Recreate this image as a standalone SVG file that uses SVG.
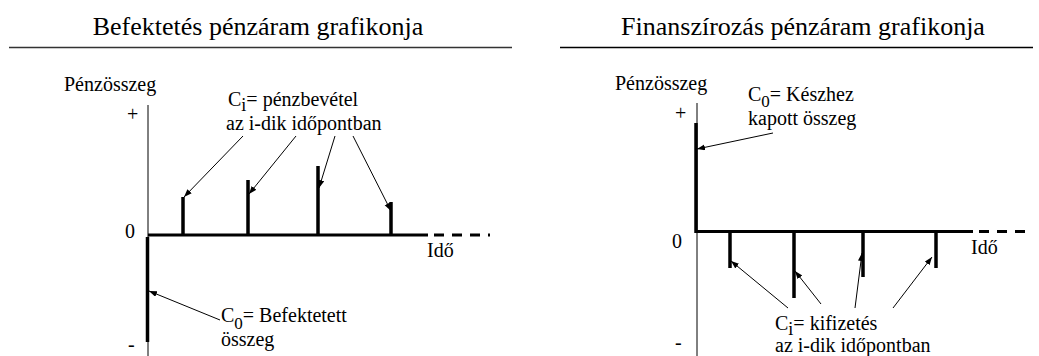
<svg xmlns="http://www.w3.org/2000/svg" width="1039" height="356" viewBox="0 0 1039 356" font-family="'Liberation Serif', 'DejaVu Serif', serif">
<style>
text{font-family:"Liberation Serif","DejaVu Serif",serif;fill:#000}
.title{font-size:26px;text-anchor:middle}
.t{font-size:20px}
.axis{stroke:#000;stroke-width:1;fill:none}
.bar{stroke:#000;stroke-width:3.5;fill:none}
.haxis{stroke:#000;stroke-width:3;fill:none}
.dash{stroke:#000;stroke-width:3;stroke-dasharray:10 8;fill:none}
.arr{stroke:#000;stroke-width:1;fill:none;marker-end:url(#ah)}
</style>
<defs>
<marker id="ah" markerUnits="userSpaceOnUse" markerWidth="9" markerHeight="7" refX="8" refY="3" orient="auto">
<path d="M0,0 L8,3 L0,6 z" fill="#000"/>
</marker>
</defs>
<rect width="1039" height="356" fill="#fff"/>

<g id="left-chart">
<text class="title" x="258" y="35">Befektetés pénzáram grafikonja</text>
<line x1="9" y1="47.5" x2="512" y2="47.5" stroke="#333" stroke-width="1.5"/>
<text class="t" x="64" y="91">Pénzösszeg</text>
<text class="t" x="127" y="121">+</text>
<text class="t" x="125" y="238">0</text>
<text class="t" x="128" y="351">-</text>
<text class="t" x="427" y="257">Idő</text>
<line class="axis" x1="148" y1="105" x2="148" y2="356"/>
<line class="haxis" x1="148" y1="235" x2="428" y2="235"/>
<line class="dash" x1="434" y1="235" x2="490" y2="235"/>
<line class="bar" x1="183" y1="197" x2="183" y2="235"/>
<line class="bar" x1="248" y1="180" x2="248" y2="235"/>
<line class="bar" x1="318" y1="166" x2="318" y2="235"/>
<line class="bar" x1="391" y1="202" x2="391" y2="235"/>
<line class="bar" x1="147.5" y1="237" x2="147.5" y2="342"/>
</g>

<g id="left-ci-label">
<text class="t" x="228" y="106">C<tspan dy="5" font-size="18">i</tspan><tspan dy="-5">= pénzbevétel</tspan></text>
<text class="t" x="226" y="130">az i-dik időpontban</text>
</g>

<g id="left-c0-label">
<text class="t" x="221" y="322">C<tspan dy="7" font-size="17">0</tspan><tspan dy="-7">= Befektetett</tspan></text>
<text class="t" x="221" y="346">összeg</text>
</g>

<g id="right-chart">
<text class="title" x="803" y="35">Finanszírozás pénzáram grafikonja</text>
<line x1="560" y1="47.5" x2="1033" y2="47.5" stroke="#000" stroke-width="1.5"/>
<text class="t" x="615" y="90">Pénzösszeg</text>
<text class="t" x="675" y="120">+</text>
<text class="t" x="672" y="248">0</text>
<text class="t" x="675" y="349">-</text>
<text class="t" x="971" y="254">Idő</text>
<line class="axis" x1="697" y1="103" x2="697" y2="356"/>
<line class="bar" x1="696" y1="123" x2="696" y2="233"/>
<line class="haxis" x1="696" y1="231.5" x2="973" y2="231.5"/>
<line class="dash" x1="979" y1="231.5" x2="1032" y2="231.5"/>
<line class="bar" x1="730" y1="231.5" x2="730" y2="268"/>
<line class="bar" x1="794" y1="231.5" x2="794" y2="298"/>
<line class="bar" x1="863" y1="231.5" x2="863" y2="277"/>
<line class="bar" x1="936" y1="231.5" x2="936" y2="268"/>
</g>

<g id="right-c0-label">
<text class="t" x="748" y="101">C<tspan dy="6" font-size="17">0</tspan><tspan dy="-6">= Készhez</tspan></text>
<text class="t" x="748" y="125">kapott összeg</text>
</g>

<g id="right-ci-label">
<text class="t" x="775" y="330">C<tspan dy="5" font-size="18">i</tspan><tspan dy="-5">= kifizetés</tspan></text>
<text class="t" x="775" y="352">az i-dik időpontban</text>
</g>

<g id="connectors">
<line class="arr" x1="243" y1="136" x2="184" y2="197"/>
<line class="arr" x1="296" y1="136" x2="249" y2="194"/>
<line class="arr" x1="335" y1="136" x2="319" y2="188"/>
<line class="arr" x1="353" y1="136" x2="391" y2="211"/>
<line class="arr" x1="220" y1="320" x2="149" y2="291"/>
<line class="arr" x1="773" y1="133" x2="697" y2="149"/>
<line class="arr" x1="788" y1="308" x2="731" y2="261"/>
<line class="arr" x1="821" y1="304" x2="795" y2="271"/>
<line class="arr" x1="855" y1="308" x2="862" y2="253"/>
<line class="arr" x1="893" y1="308" x2="932" y2="257"/>
</g>
</svg>
